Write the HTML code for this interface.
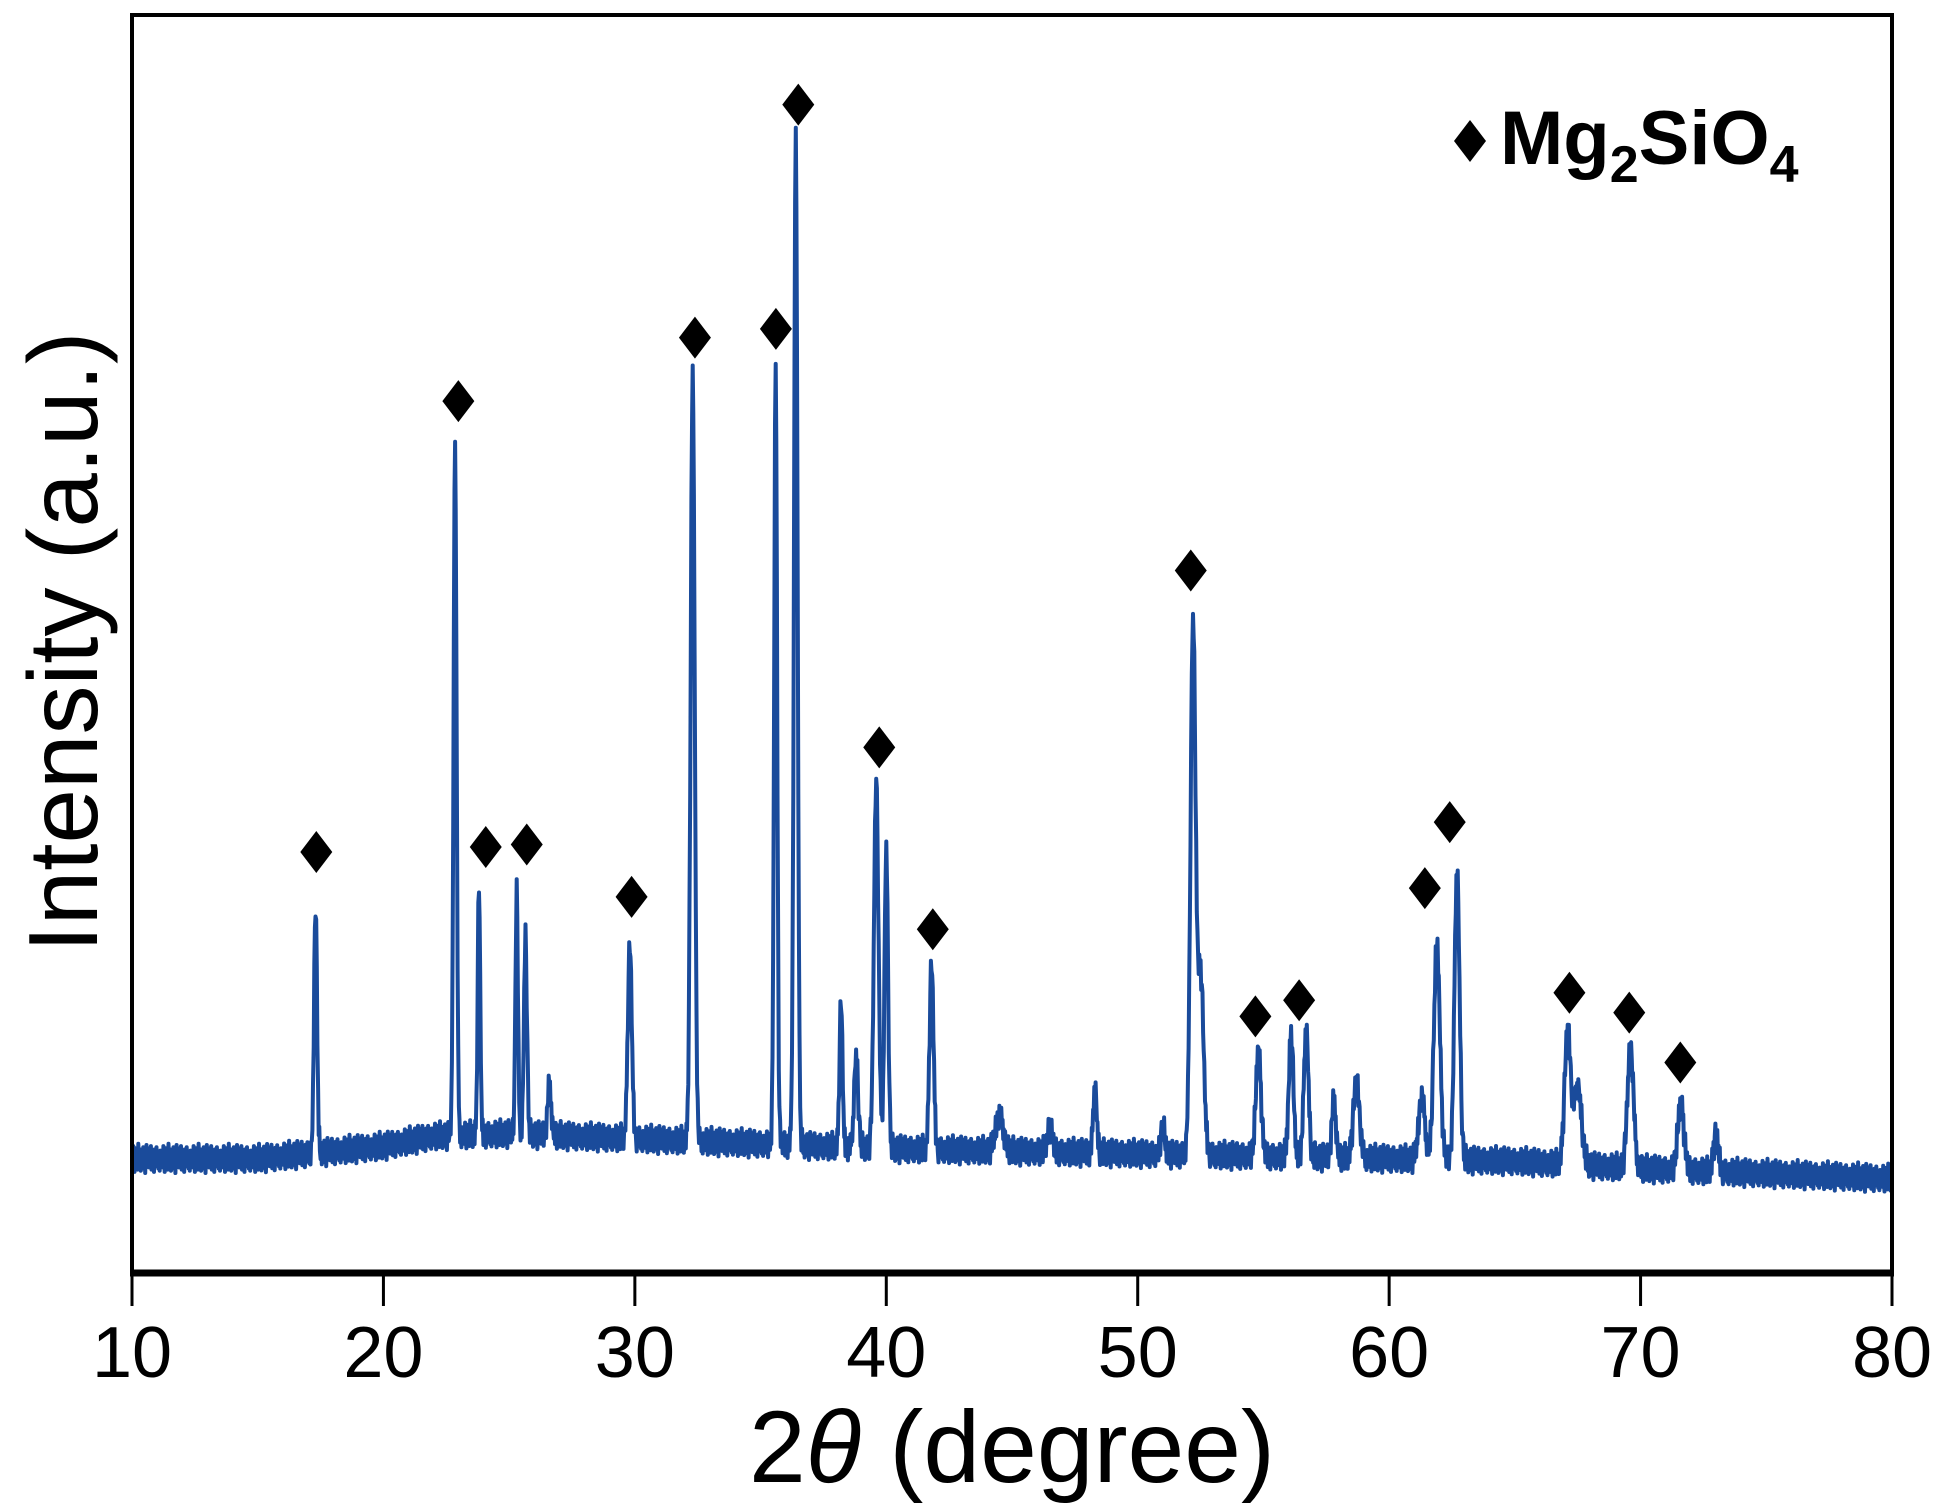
<!DOCTYPE html>
<html><head><meta charset="utf-8"><style>
html,body{margin:0;padding:0;background:#fff;}
svg{display:block;font-family:"Liberation Sans",Arial,sans-serif;}
</style></head><body>
<svg id="chart" width="1953" height="1506" viewBox="0 0 1953 1506" xmlns="http://www.w3.org/2000/svg">
<g id="plot"></g>
<rect x="132" y="15" width="1760" height="1258" fill="none" stroke="#000" stroke-width="4"/>
<line x1="130" y1="1273" x2="1894" y2="1273" stroke="#000" stroke-width="7"/>
<g id="xticks"></g>
<text x="1012" y="1482" font-size="102" text-anchor="middle">2<tspan font-style="italic">θ</tspan> (degree)</text>
<text transform="translate(97,642) rotate(-90)" font-size="98" text-anchor="middle">Intensity (a.u.)</text>
<g>
<path d="M1470,120 L1486,141 L1470,162 L1454,141 Z" fill="#000"/>
<text x="1500" y="164" font-size="76" font-weight="bold">Mg<tspan font-size="52" dy="18">2</tspan><tspan dy="-18">SiO</tspan><tspan font-size="52" dy="18">4</tspan></text>
</g>
<g id="markers"></g>
</svg>
<script>
const xTicks = [10,20,30,40,50,60,70,80];
const baseDeg = [10,15,20,22,25,30,35,40,45,50,55,60,65,70,75,80];
const baseVal = [92,92,102,110,112,108,104,100,98,96,94,92,90,84,80,76];
const peakPos = [17.3,22.85,23.8,25.3,25.65,26.6,29.8,32.3,35.6,36.4,38.2,38.8,39.6,40.0,41.8,44.5,46.5,48.3,51.0,52.2,52.5,54.8,56.1,56.7,57.8,58.7,61.3,61.9,62.7,67.1,67.5,69.6,71.6,73.0];
const peakTop = [297,670,310,309,270,152,262,725,729,914,217,174,395,341,247,127,117,150,117,521,240,180,192,197,140,154,142,265,324,194,150,182,137,110];
const peakSig = [0.06,0.06,0.05,0.05,0.06,0.07,0.08,0.08,0.06,0.07,0.06,0.08,0.09,0.07,0.08,0.15,0.1,0.07,0.08,0.1,0.12,0.1,0.09,0.09,0.08,0.12,0.12,0.12,0.1,0.12,0.15,0.12,0.12,0.1];
const noise = [6,-8,11,-3,-12,4,9,-6,2,-10,13,-2,-7,8,-11,5,1,-9,10,-4,7,-13,3,12,-5,-1,9,-8,4,-6,11,-10,2,6,-3,-12,8,0,-7,10,-2,5,-9,3,-11,7,1,-5];
const markDeg = [17.33,22.98,24.07,25.70,29.87,32.39,35.61,36.50,39.72,41.85,52.11,54.68,56.42,61.42,62.41,67.17,69.55,71.58];
const markI = [338,700,342,344,302,751,758,938,422,276,564,206,219,309,362,225,209,169];

const X = t => 132 + (t - 10) * 1760 / 70;
const Y = v => 1273 - v * 1258 / 1010;
const NS = 'http://www.w3.org/2000/svg';

function baseAt(t){
  for (let i = 0; i < baseDeg.length - 1; i++) {
    if (t <= baseDeg[i+1]) { const f = (t - baseDeg[i]) / (baseDeg[i+1] - baseDeg[i]); return baseVal[i] + f * (baseVal[i+1] - baseVal[i]); }
  }
  return baseVal[baseVal.length - 1];
}
let d = '';
let k = 0;
for (let t = 10; t <= 80.0001; t += 0.025, k++) {
  const b = baseAt(t);
  let v = b + noise[k % noise.length] * 0.9;
  for (let i = 0; i < peakPos.length; i++) {
    const g = Math.exp(-0.5 * Math.pow((t - peakPos[i]) / peakSig[i], 2));
    v += (peakTop[i] - b) * g;
  }
  d += (k ? 'L' : 'M') + X(t).toFixed(1) + ',' + Y(v).toFixed(1);
}
const line = document.createElementNS(NS, 'path');


line.setAttribute('d', d);
line.setAttribute('fill', 'none');
line.setAttribute('stroke', '#1a4b9b');
line.setAttribute('stroke-width', '4');
line.setAttribute('stroke-linejoin', 'round');
document.getElementById('plot').appendChild(line);

const xt = document.getElementById('xticks');
xTicks.forEach(v => {
  const l = document.createElementNS(NS, 'line');
  
  
  l.setAttribute('x1', X(v)); l.setAttribute('x2', X(v));
  l.setAttribute('y1', 1273); l.setAttribute('y2', 1306);
  l.setAttribute('stroke', '#000'); l.setAttribute('stroke-width', '3');
  xt.appendChild(l);
  const tx = document.createElementNS(NS, 'text');
  
  
  tx.setAttribute('x', X(v)); tx.setAttribute('y', 1377);
  tx.setAttribute('font-size', '72'); tx.setAttribute('text-anchor', 'middle');
  tx.textContent = v;
  xt.appendChild(tx);
});

const mk = document.getElementById('markers');
markDeg.forEach((t, i) => {
  const cx = X(t), cy = Y(markI[i]);
  const p = document.createElementNS(NS, 'path');
  
  
  p.setAttribute('d', `M${cx},${cy-21} L${cx+16},${cy} L${cx},${cy+21} L${cx-16},${cy} Z`);
  p.setAttribute('fill', '#000');
  mk.appendChild(p);
});
</script>
</body></html>
